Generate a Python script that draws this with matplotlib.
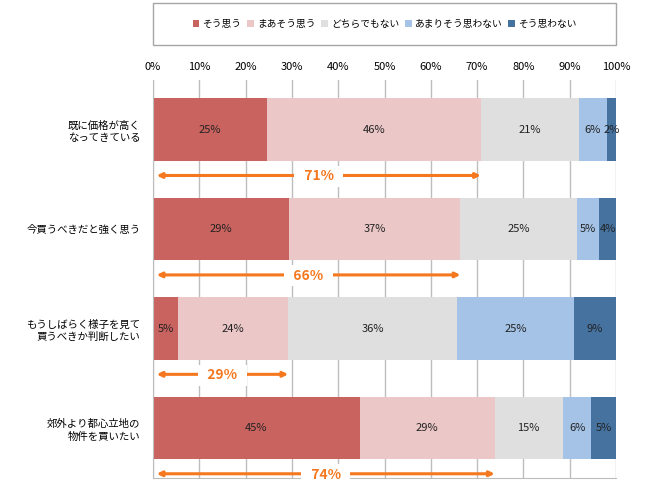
import matplotlib
matplotlib.use("Agg")
import matplotlib.pyplot as plt
import numpy as np

plt.rcParams['font.family'] = ['Noto Sans CJK JP', 'DejaVu Sans']

# データ
categories = ["既に価格が高く\nなってきている",
              "今買うべきだと強く思う",
              "もうしばらく様子を見て\n買うべきか判断したい",
              "郊外より都心立地の\n物件を買いたい"]
series_names = ["そう思う", "まあそう思う", "どちらでもない", "あまりそう思わない", "そう思わない"]
sou_omou = [24.6, 29.3, 5.4, 44.6]
maa_sou_omou = [46.2, 37.1, 23.8, 29.2]
dochira = [21.1, 25.1, 36.4, 14.7]
amari = [6.2, 4.9, 25.3, 6.2]
sou_omowanai = [1.9, 3.6, 9.1, 5.3]
colors = ["#C9635F", "#EBC7C7", "#DFDFDF", "#A4C3E7", "#4672A0"]
xtick_labels = ["0%", "10%", "20%", "30%", "40%", "50%", "60%", "70%", "80%", "90%", "100%"]

series = [sou_omou, maa_sou_omou, dochira, amari, sou_omowanai]

fig = plt.figure(figsize=(6.5, 4.91), dpi=100)
ax = fig.add_axes([0.2354, 0.027, 0.7123, 0.81])

y = np.arange(len(categories))
left = np.zeros(len(categories))
for vals, name, c in zip(series, series_names, colors):
    ax.barh(y, vals, left=left, height=0.63, color=c, label=name, zorder=2)
    for i, v in enumerate(vals):
        ax.text(left[i] + v / 2, y[i], f"{v:.0f}%", ha="center", va="center",
                fontsize=8, color="#222222", zorder=3)
    left = left + np.array(vals)

# 矢印（そう思う＋まあそう思う）
orange = "#F5781E"
for i in range(len(categories)):
    top2 = sou_omou[i] + maa_sou_omou[i]
    ay = y[i] + 0.46
    ax.annotate("", xy=(0.8, ay), xytext=(top2, ay),
                arrowprops=dict(arrowstyle="<|-|>", color=orange, lw=2.2,
                                mutation_scale=7, shrinkA=0, shrinkB=0), zorder=4)
    ax.text(top2 / 2 + 0.4, ay + 0.01, f"  {top2:.0f}%  ", ha="center", va="center",
            fontsize=10, fontweight="bold", color=orange, zorder=5,
            bbox=dict(facecolor="white", edgecolor="none", pad=2.5))

ax.set_xlim(0, 100)
ax.set_ylim(3.5, -0.5)
ax.set_xticks(np.arange(0, 101, 10))
ax.set_xticklabels(xtick_labels, fontsize=8)
ax.xaxis.tick_top()
ax.tick_params(axis="x", length=0, pad=6)
ax.set_yticks(y)
ax.set_yticklabels(categories, fontsize=7.5, ha="right", linespacing=1.3)
ax.tick_params(axis="y", length=0, pad=9)
ax.grid(axis="x", color="#BDBDBD", lw=1, zorder=0)
for s in ["top", "right"]:
    ax.spines[s].set_visible(False)
ax.spines["left"].set_color("#BDBDBD")
ax.spines["bottom"].set_color("#BDBDBD")

# 凡例
leg = fig.legend(loc="center", bbox_to_anchor=(0.2354, 0.908, 0.7123, 0.085), ncol=5,
                 fontsize=7, frameon=False, handlelength=0.7,
                 handleheight=0.7, handletextpad=0.3, columnspacing=0.6,
                 borderaxespad=0)
legbox = plt.Rectangle((0.2354, 0.908), 0.7123, 0.085, transform=fig.transFigure,
                       fill=False, edgecolor="#A6A6A6", lw=1)
fig.patches.append(legbox)

fig.savefig("out.png", dpi=100)
